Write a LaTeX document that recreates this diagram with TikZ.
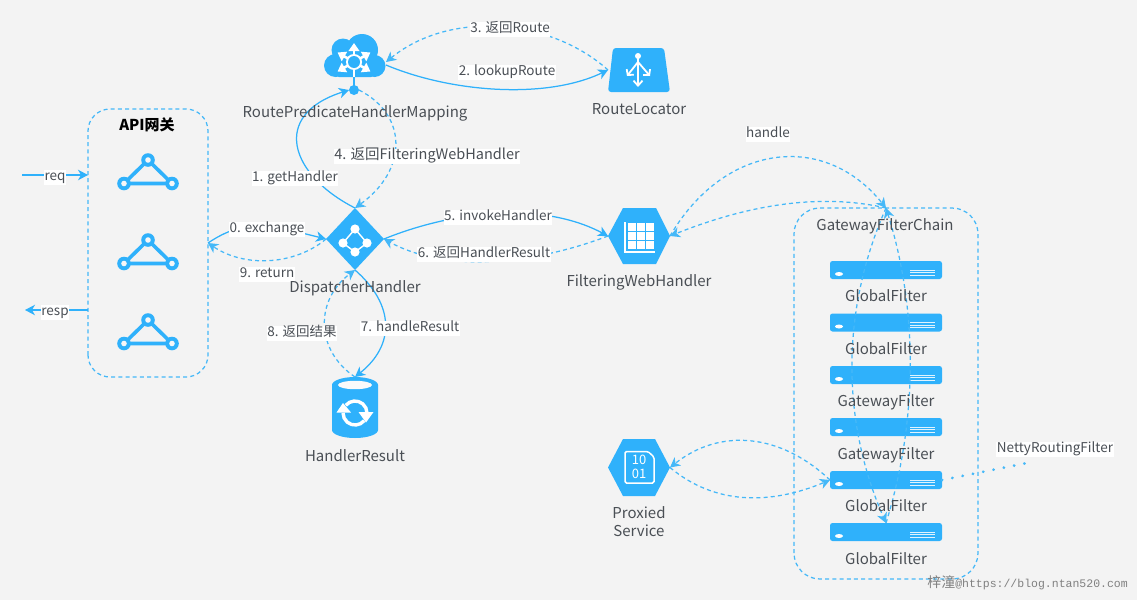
\documentclass[tikz,border=0pt]{standalone}
\usepackage{fontspec}
\setmainfont{Noto Sans CJK SC}
\newfontfamily\cjkfont{Noto Sans CJK SC}
\newfontfamily\wmfont{Liberation Mono}
\usetikzlibrary{arrows.meta,calc}
\definecolor{blu}{HTML}{2FB1FB}
\definecolor{dsh}{HTML}{45B8F8}
\definecolor{bgc}{HTML}{F3F3F3}
\definecolor{txt}{HTML}{4A4F55}
\tikzset{
  arrowtip/.style={-{Stealth[length=10pt,width=10.5pt,inset=3pt]}},
  solidc/.style={draw=blu,line width=1.25pt,arrowtip},
  dashc/.style={draw=dsh,line width=1.25pt,dash pattern=on 4pt off 3.2pt,arrowtip},
  dashbox/.style={draw=dsh,line width=1.25pt,dash pattern=on 4pt off 3.2pt,rounded corners=22pt},
  lab/.style={fill=white,text=txt,inner xsep=0.5pt,inner ysep=0.5pt,yshift=-2pt,font=\fontsize{13.5}{15}\selectfont,text height=10.5pt,text depth=3.5pt},
  capt/.style={text=txt,inner sep=0pt,yshift=-1pt,font=\fontsize{15}{18}\selectfont,text height=11.5pt,text depth=3.5pt},
  slot/.style={inner sep=0pt,outer sep=0pt,minimum width=#1},
}
\begin{document}
\begin{tikzpicture}[x=1pt,y=-1pt]
\useasboundingbox (0,0) rectangle (1137,600);
\fill[bgc] (0,0) rectangle (1137,600);

% ---- containers
\node[slot=120pt,minimum height=268pt] (api) at (148,243) {};
\draw[dashbox] (api.south west) rectangle (api.north east);
\node[slot=184pt,minimum height=371pt] (chainbox) at (886,393.5) {};
\draw[dashbox,rounded corners=26pt] (chainbox.south west) rectangle (chainbox.north east);

% ---- anchors for icons
\node[slot=62pt,minimum height=44pt] (cloud) at (355,56) {};
\node[inner sep=0pt,outer sep=0pt,circle,minimum size=10pt,fill=blu] (dot) at (354,90) {};
\node[slot=62pt,minimum height=44pt] (locator) at (639,70) {};
\node[slot=58pt,minimum height=62pt] (disp) at (355,239) {};
\node[slot=62pt,minimum height=56pt] (fweb) at (639,236) {};
\node[slot=62pt,minimum height=57pt] (proxied) at (639,467.5) {};
\node[slot=46pt,minimum height=61pt] (hres) at (355,407.5) {};
\coordinate (reqin) at (22,175);
\coordinate (respout) at (25,310);
\coordinate (dotend) at (1032,462);
\coordinate (chainpt) at (886,208);

% ---- triangles
\foreach \i/\yy in {1/160,2/240,3/320}{
  \node[inner sep=0pt,outer sep=0pt,minimum size=0pt] (tri\i) at (148,\yy) {};
  \draw[blu,line width=3.6pt] (148,\yy) -- (124,\yy+23.5) -- (172,\yy+23.5) -- cycle;
  \foreach \px/\py in {148/0,124/23.5,172/23.5}{
    \fill[blu] (\px,\yy+\py) circle (6.8);
    \fill[bgc!70!white] (\px,\yy+\py) circle (2.8);
  }
}

% ---- servers
\foreach \i/\yy in {1/270,2/322.5,3/375,4/427,5/480,6/532}{
  \node[slot=112pt,minimum height=18pt,fill=blu,rounded corners=2.5pt] (srv\i) at (886,\yy) {};
  \fill[white] (839,\yy+4) ellipse (4 and 2);
  \draw[white!85!blu,line width=0.8pt] (910,\yy) -- (935,\yy) (910,\yy+2.6) -- (935,\yy+2.6) (910,\yy+5) -- (935,\yy+5);
}

% ---- cloud icon
\fill[blu] (335.5,65.5) circle (11.5) (343,50) circle (11.5) (362,50) circle (16) (374.5,66) circle (11);
\fill[blu,rounded corners=4pt] (335,55) rectangle (375,77);
\draw[blu,line width=2.6pt] (354,74) -- (dot.center);
\foreach \a in {90,30,150,210,330}{
  \draw[draw=white,line width=2.6pt,-{Stealth[length=8pt,width=10.5pt,inset=0pt]}] (354,62) -- ++(\a:-19);
}
\draw[white,line width=2.2pt] (354,62) -- (354,77);
\fill[white] (354,62) circle (8);
\fill[blu] (354,62) circle (6);

% ---- locator icon
\fill[blu,rounded corners=3pt] (613,48) -- (664,48) -- (670,92) -- (608,92) -- cycle;
\fill[white] (638,56) circle (3);
\draw[white,line width=1.8pt,-{Straight Barb[length=5pt,width=9pt]}] (638,56) -- (638,87);
\draw[white,line width=1.8pt,-{Straight Barb[length=4pt,width=9pt]}] (638,62) -- (627,76);
\draw[white,line width=1.8pt,-{Straight Barb[length=4pt,width=9pt]}] (638,62) -- (650,76);

% ---- dispatcher icon
\fill[blu] (326,239) -- (355,208) -- (384,239) -- (355,270) -- cycle;
\draw[white,line width=1.4pt] (355,229) -- (367,243) -- (355,252) -- (343,243) -- cycle;
\foreach \px/\py in {355/229,343/243,367/243,355/252}{\fill[white] (\px,\py) circle (4.6);}

% ---- filtering hexagon
\fill[blu] (608,236) -- (623,208) -- (656,208) -- (670,236) -- (656,264) -- (623,264) -- cycle;
\foreach \cx in {628,637.2,646.4}{\foreach \cy in {223,232.2,241.4}{
  \fill[white] (\cx,\cy) rectangle (\cx+7.8,\cy+7.8);
}}
\draw[white,line width=1.5pt] (625,222) -- (625,252) -- (655,252);

% ---- proxied hexagon
\fill[blu] (608,467.5) -- (623,439) -- (655,439) -- (670,467.5) -- (655,496) -- (623,496) -- cycle;
\draw[white,line width=1.5pt,rounded corners=1.5pt] (648,451.5) -- (625,451.5) -- (625,483) -- (654,483) -- (654,457) -- cycle;
\node[inner sep=0pt,text=white,align=center,font=\fontsize{13}{14}\selectfont] (bits) at (639,467) {10\\01};

% ---- cylinder
\fill[blu] (332,385) -- (332,430) arc (180:360:23 and -8) -- (378,385) -- cycle;
\fill[blu] (355,385) ellipse (23 and 8);
\fill[bgc!40!white] (355,385) ellipse (17 and 4.2);
\draw[white,line width=3.4pt] (345.8,405.3) arc[start angle=140,end angle=0,radius=12pt];
\fill[white] (358.5,412) -- (373.5,412) -- (366,422.5) -- cycle;
\draw[white,line width=3.4pt] (364.2,420.7) arc[start angle=320,end angle=180,radius=12pt];
\fill[white] (336.5,412.5) -- (351,412.5) -- (343,403) -- cycle;

% ---- connectors
\draw[solidc] (reqin) -- (api.west |- reqin);
\draw[solidc] (api.west |- respout) -- (respout);

\draw[solidc] (cloud.east |- 0,65) .. controls (450,92) and (545,100) .. (locator.west);
\draw[dashc] (locator.west) .. controls (550,18) and (450,10) .. (cloud.east |- 0,62);

\draw[solidc] (disp.north) .. controls (290,175) and (270,115) .. (dot.west);
\draw[dashc] (dot.east) .. controls (408,115) and (408,170) .. (disp.north);

\draw[solidc] (api.east) .. controls (245,218) and (270,225) .. (disp.west);
\draw[dashc] (disp.west) .. controls (295,265) and (245,268) .. (api.east);

\draw[solidc] (disp.east) .. controls (450,212) and (540,200) .. (fweb.west);
\draw[dashc] (fweb.west) .. controls (540,262) and (450,275) .. (disp.east);

\draw[solidc] (disp.south) .. controls (395,305) and (395,345) .. (hres.north);
\draw[dashc] (hres.north) .. controls (315,350) and (315,300) .. (disp.south);

\draw[dashc] (fweb.east) .. controls (725,142) and (825,132) .. (chainpt);
\draw[dashc] (chainpt) .. controls (830,195) and (760,200) .. (fweb.east);

\draw[dashc] (chainpt) .. controls (841,310) and (841,420) .. (srv6.north);
\draw[dashc] (srv6.north) .. controls (918,420) and (918,310) .. (chainpt);

\draw[dashc] (srv5.west) .. controls (780,433) and (720,428) .. (proxied.east);
\draw[dashc] (proxied.east) .. controls (715,505) and (770,505) .. (srv5.west);

\draw[draw=dsh,line width=3pt,line cap=round,dash pattern=on 0.1pt off 10.4pt] (srv5.east) -- (dotend);

% ---- labels
\node[font=\fontsize{15}{16}\selectfont\bfseries,text=black,inner sep=0pt] (apit) at (147,125) {API网关};
\node[lab] (lreq) at (55,175) {req};
\node[lab] (lresp) at (55,310) {resp};
\node[lab] (l0) at (267,227) {0. exchange};
\node[lab] (l1) at (295,176) {1. getHandler};
\node[lab] (l2) at (507,70) {2. lookupRoute};
\node[lab] (l3) at (510,27) {3. 返回Route};
\node[lab,font=\fontsize{14.5}{16}\selectfont] (l4) at (427,154) {4. 返回FilteringWebHandler};
\node[lab] (l5) at (498,215) {5. invokeHandler};
\node[lab] (l6) at (484,252) {6. 返回HandlerResult};
\node[lab] (l7) at (410,326) {7. handleResult};
\node[lab] (l8) at (302,331) {8. 返回结果};
\node[lab] (l9) at (267,272) {9. return};
\node[lab] (lh) at (768,132) {handle};
\node[lab] (ln) at (1055,447) {NettyRoutingFilter};

\node[capt] (n1) at (355,112) {RoutePredicateHandlerMapping};
\node[capt] (n2) at (639,109) {RouteLocator};
\node[capt] (n3) at (355,287) {DispatcherHandler};
\node[capt] (n4) at (639,281) {FilteringWebHandler};
\node[capt] (n5) at (355,456) {HandlerResult};
\node[capt,align=center] (n6) at (639,531) {Proxied\\Service};
\node[capt] (n7) at (885,225) {GatewayFilterChain};
\node[capt] (f1) at (886,296) {GlobalFilter};
\node[capt] (f2) at (886,349) {GlobalFilter};
\node[capt] (f3) at (886,401) {GatewayFilter};
\node[capt] (f4) at (886,454) {GatewayFilter};
\node[capt] (f5) at (886,506) {GlobalFilter};
\node[capt] (f6) at (886,559) {GlobalFilter};

% ---- watermark
\node[anchor=east,inner sep=0pt,text=black!50,font=\fontsize{11.5}{13}\selectfont] (wm) at (1128,583) {\cjkfont\fontsize{14}{14}\selectfont 梓潼\wmfont\fontsize{11.5}{13}\selectfont @https://blog.ntan520.com};
\end{tikzpicture}
\end{document}
